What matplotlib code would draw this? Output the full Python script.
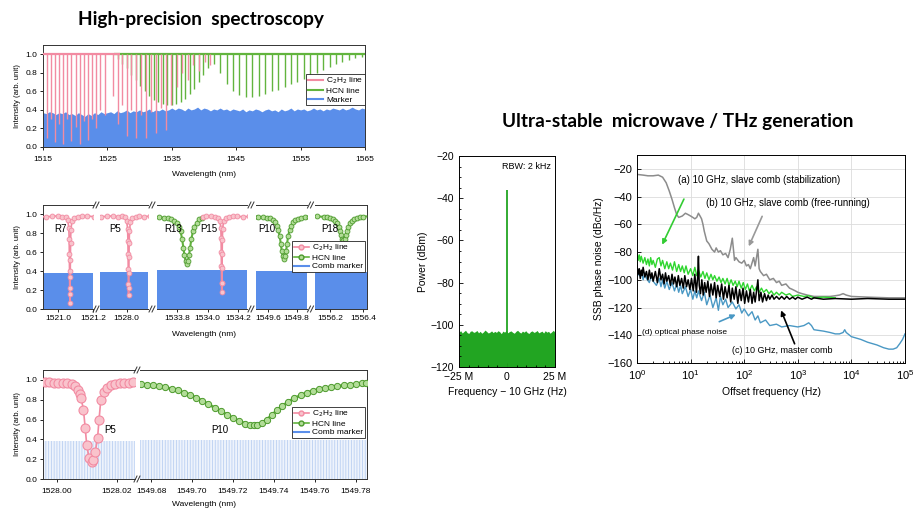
import numpy as np
import matplotlib.pyplot as plt
from matplotlib.lines import Line2D
from matplotlib.ticker import MultipleLocator, LogLocator, NullFormatter

plt.rcParams['font.family'] = ['Liberation Sans', 'DejaVu Sans']
plt.rcParams['hatch.linewidth'] = 0.6

# ---------------- DATA ----------------
# top panel: absorption lines (wavelength nm, minimum intensity)
c2h2_lines = [(1515.6, 0.10), (1516.2, 0.30), (1516.9, 0.05), (1517.5, 0.25), (1518.1, 0.03),
              (1518.8, 0.30), (1519.4, 0.06), (1520.1, 0.22), (1520.7, 0.03), (1521.3, 0.28),
              (1522.0, 0.08), (1522.6, 0.30), (1523.3, 0.20), (1523.9, 0.40), (1524.6, 0.35),
              (1525.9, 0.55), (1526.6, 0.25), (1527.3, 0.45), (1528.0, 0.12), (1528.7, 0.40),
              (1529.5, 0.10), (1530.2, 0.35), (1531.0, 0.10), (1531.7, 0.38), (1532.5, 0.15),
              (1533.3, 0.42), (1534.1, 0.18), (1534.9, 0.45), (1535.8, 0.65), (1536.6, 0.80),
              (1537.5, 0.72), (1538.3, 0.88), (1539.2, 0.82), (1540.1, 0.92), (1541.0, 0.88)]
hcn_lines = [(1526.6, 0.95), (1527.3, 0.90), (1528.0, 0.85), (1528.7, 0.78), (1529.4, 0.72),
             (1530.1, 0.66), (1530.8, 0.60), (1531.5, 0.55), (1532.2, 0.51), (1532.9, 0.48),
             (1533.6, 0.46), (1534.3, 0.45), (1535.0, 0.45), (1535.7, 0.46), (1536.4, 0.48),
             (1537.1, 0.52), (1537.8, 0.57), (1538.5, 0.63), (1539.2, 0.70), (1539.9, 0.78),
             (1540.6, 0.85), (1541.6, 0.90), (1542.5, 0.80), (1543.5, 0.68), (1544.5, 0.60),
             (1545.5, 0.56), (1546.5, 0.54), (1547.5, 0.54), (1548.5, 0.55), (1549.5, 0.57),
             (1550.5, 0.60), (1551.5, 0.62), (1552.5, 0.65), (1553.5, 0.68), (1554.5, 0.70),
             (1555.5, 0.73), (1556.5, 0.76), (1557.5, 0.80), (1558.5, 0.83), (1559.5, 0.86),
             (1560.5, 0.89), (1561.5, 0.92), (1562.5, 0.94), (1563.5, 0.96), (1564.5, 0.97)]
# comb marker level, every 0.5 nm from 1515 to 1565
top_marker = [0.37, 0.36, 0.38, 0.37, 0.35, 0.37, 0.36, 0.38, 0.35, 0.36, 0.34, 0.37, 0.35,
              0.33, 0.36, 0.34, 0.37, 0.35, 0.38, 0.36, 0.37,
              0.38, 0.36, 0.39, 0.37, 0.38, 0.40, 0.37, 0.39, 0.38, 0.40, 0.38, 0.39, 0.41,
              0.38, 0.40, 0.39, 0.41, 0.39, 0.40, 0.42,
              0.40, 0.42, 0.41, 0.39, 0.42, 0.40, 0.41, 0.43, 0.40, 0.42, 0.41, 0.39, 0.41,
              0.40, 0.42, 0.40, 0.41, 0.39, 0.41, 0.40,
              0.39, 0.41, 0.38, 0.40, 0.39, 0.41, 0.40, 0.38, 0.40, 0.41, 0.39, 0.40, 0.38,
              0.41, 0.39, 0.40, 0.42, 0.39, 0.41, 0.40,
              0.41, 0.39, 0.40, 0.42, 0.40, 0.41, 0.39, 0.41, 0.40, 0.42, 0.41, 0.40, 0.42,
              0.40, 0.41, 0.43, 0.41, 0.40, 0.42, 0.41]

# middle panel: (offset from line centre nm, intensity)
mid_centers = {'R7': 1521.067, 'P5': 1528.0117, 'R13': 1533.865, 'P15': 1534.092,
               'P10': 1549.71, 'P18': 1556.281}
mid_label_x = {'R7': 1521.01, 'P5': 1527.925, 'R13': 1533.778, 'P15': 1534.011,
               'P10': 1549.589, 'P18': 1556.20}
mid_r7 = [(-0.30, 0.98), (-0.26, 0.975), (-0.22, 0.985), (-0.18, 0.98), (-0.14, 0.975),
          (-0.10, 0.98), (-0.07, 0.985), (-0.045, 0.975), (-0.025, 0.97), (-0.012, 0.94),
          (-0.006, 0.86), (-0.004, 0.74), (-0.003, 0.58), (-0.002, 0.40), (-0.001, 0.22),
          (0.0, 0.06), (0.001, 0.16), (0.002, 0.34), (0.003, 0.52), (0.004, 0.70),
          (0.006, 0.84), (0.012, 0.93), (0.025, 0.965), (0.045, 0.975), (0.07, 0.98),
          (0.10, 0.985), (0.14, 0.975), (0.18, 0.98), (0.22, 0.985), (0.26, 0.975)]
mid_p5 = [(-0.26, 0.98), (-0.22, 0.985), (-0.18, 0.975), (-0.14, 0.98), (-0.10, 0.985),
          (-0.07, 0.975), (-0.045, 0.98), (-0.025, 0.97), (-0.012, 0.93), (-0.006, 0.85),
          (-0.004, 0.72), (-0.003, 0.58), (-0.002, 0.42), (-0.001, 0.26), (0.0, 0.15),
          (0.001, 0.22), (0.002, 0.38), (0.003, 0.55), (0.004, 0.70), (0.006, 0.83),
          (0.012, 0.92), (0.025, 0.96), (0.045, 0.975), (0.07, 0.98), (0.10, 0.975),
          (0.14, 0.985), (0.18, 0.98), (0.22, 0.975)]
mid_r13 = [(-0.22, 0.97), (-0.18, 0.97), (-0.15, 0.965), (-0.12, 0.96), (-0.10, 0.95),
           (-0.08, 0.935), (-0.065, 0.91), (-0.05, 0.87), (-0.04, 0.82), (-0.03, 0.74),
           (-0.022, 0.65), (-0.015, 0.57), (-0.008, 0.51), (0.0, 0.48), (0.008, 0.51),
           (0.015, 0.57), (0.022, 0.65), (0.03, 0.74), (0.04, 0.82), (0.05, 0.87),
           (0.065, 0.91), (0.08, 0.95), (0.10, 0.965)]
mid_p15 = [(-0.12, 0.975), (-0.10, 0.985), (-0.07, 0.98), (-0.045, 0.975), (-0.025, 0.965),
           (-0.012, 0.93), (-0.006, 0.86), (-0.004, 0.75), (-0.003, 0.60), (-0.002, 0.45),
           (-0.001, 0.28), (0.0, 0.18), (0.001, 0.27), (0.002, 0.43), (0.003, 0.58),
           (0.004, 0.73), (0.006, 0.85), (0.012, 0.93), (0.025, 0.965), (0.045, 0.975),
           (0.07, 0.985), (0.10, 0.98), (0.14, 0.975), (0.18, 0.98)]
mid_p10 = [(-0.21, 0.975), (-0.18, 0.975), (-0.15, 0.97), (-0.12, 0.965), (-0.10, 0.96),
           (-0.08, 0.94), (-0.065, 0.915), (-0.05, 0.88), (-0.04, 0.84), (-0.03, 0.77),
           (-0.022, 0.69), (-0.015, 0.61), (-0.008, 0.56), (0.0, 0.53), (0.008, 0.56),
           (0.015, 0.61), (0.022, 0.69), (0.03, 0.77), (0.04, 0.84), (0.05, 0.88),
           (0.065, 0.915), (0.08, 0.94), (0.10, 0.95), (0.12, 0.96), (0.15, 0.97),
           (0.18, 0.975)]
mid_p18 = [(-0.20, 0.985), (-0.16, 0.98), (-0.12, 0.975), (-0.10, 0.97), (-0.08, 0.96),
           (-0.065, 0.95), (-0.05, 0.93), (-0.04, 0.905), (-0.03, 0.87), (-0.022, 0.82),
           (-0.015, 0.78), (-0.008, 0.745), (0.0, 0.73), (0.008, 0.745), (0.015, 0.78),
           (0.022, 0.82), (0.03, 0.87), (0.04, 0.905), (0.05, 0.93), (0.065, 0.95),
           (0.08, 0.96), (0.10, 0.97), (0.12, 0.975), (0.16, 0.985)]
mid_comb_level = [0.38, 0.39, 0.41, 0.40, 0.39]
mid_xlims = [(1520.9126, 1521.198), (1527.828, 1528.137), (1533.672, 1534.256),
             (1549.513, 1549.873), (1556.110, 1556.422)]
mid_xticks = [[1521.0, 1521.2], [1528.0], [1533.8, 1534.0, 1534.2], [1549.6, 1549.8],
              [1556.2, 1556.4]]

# bottom panel: zoom on P5 and P10 (wavelength nm, intensity)
bot_p5 = [(1527.9960, 0.975), (1527.9975, 0.975), (1527.9990, 0.97), (1528.0005, 0.97),
          (1528.0020, 0.965), (1528.0035, 0.965), (1528.0050, 0.96), (1528.0062, 0.935),
          (1528.0070, 0.90), (1528.0076, 0.855), (1528.0081, 0.815), (1528.0089, 0.70),
          (1528.0095, 0.51), (1528.0100, 0.34), (1528.0108, 0.21), (1528.0117, 0.175),
          (1528.0122, 0.19), (1528.0128, 0.27), (1528.0136, 0.41), (1528.0141, 0.60),
          (1528.0147, 0.80), (1528.0156, 0.88), (1528.0167, 0.92), (1528.0180, 0.945),
          (1528.0195, 0.955), (1528.0210, 0.965), (1528.0225, 0.97), (1528.0240, 0.97),
          (1528.0255, 0.975)]
bot_p10 = [(1549.6750, 0.955), (1549.6780, 0.95), (1549.6810, 0.945), (1549.6840, 0.935),
           (1549.6870, 0.925), (1549.6900, 0.91), (1549.6930, 0.895), (1549.6960, 0.87),
           (1549.6990, 0.85), (1549.7020, 0.82), (1549.7050, 0.79), (1549.7080, 0.755),
           (1549.7110, 0.72), (1549.7140, 0.685), (1549.7170, 0.65), (1549.7200, 0.615),
           (1549.7230, 0.585), (1549.7260, 0.56), (1549.7285, 0.545), (1549.7300, 0.54),
           (1549.7315, 0.545), (1549.7340, 0.565), (1549.7365, 0.60), (1549.7390, 0.645),
           (1549.7415, 0.695), (1549.7440, 0.735), (1549.7470, 0.78), (1549.7500, 0.815),
           (1549.7530, 0.845), (1549.7560, 0.87), (1549.7590, 0.89), (1549.7620, 0.905),
           (1549.7650, 0.915), (1549.7680, 0.925), (1549.7710, 0.935), (1549.7740, 0.945),
           (1549.7770, 0.95), (1549.7800, 0.96), (1549.7830, 0.965), (1549.7850, 0.97)]
bot_comb_level = [0.38, 0.395]
bot_xlims = [(1527.9954, 1528.0261), (1549.6746, 1549.7854)]
bot_xticks = [[1528.00, 1528.02], [1549.68, 1549.70, 1549.72, 1549.74, 1549.76, 1549.78]]

# microwave spectrum
mw_floor = [-103.5, -102.8, -103.9, -103.2, -102.6, -103.7, -104.1, -103.0, -102.9, -103.6,
            -103.3, -102.7, -103.8, -103.1, -104.0, -103.4, -102.5, -103.2, -103.9, -103.5,
            -102.9, -103.7, -103.1, -103.6, -102.8, -103.3, -104.2, -103.0, -103.5, -102.7,
            -103.8, -103.2, -102.9, -103.6, -104.0, -103.1, -102.6, -103.4, -103.9, -103.0,
            -103.5, -102.8, -103.7, -104.1, -103.2, -102.9, -103.6, -103.3, -102.7, -103.8,
            -103.4, -103.0, -103.9, -102.8, -103.5, -103.1, -104.0, -103.3, -102.6, -103.7]
mw_peak_freq = 0.0
mw_peak_power = -36.0

# SSB phase noise (offset Hz, dBc/Hz)
pn_gray = [(1, -24), (1.3, -24.5), (1.6, -25), (2.0, -25), (2.5, -24.5), (3.0, -26), (3.5, -30),
           (4.0, -36), (4.5, -42), (5.0, -48), (5.5, -53), (6.0, -55), (7.0, -54), (8.0, -52),
           (9.0, -53), (10, -54), (11, -55), (12, -56), (13, -55), (14, -52), (15, -54),
           (16, -56), (17, -60), (18, -65), (20, -72), (22, -74), (25, -78), (28, -80),
           (30, -77), (33, -80), (36, -79), (40, -82), (45, -81), (50, -84), (55, -78),
           (60, -70), (63, -78), (66, -86), (70, -84), (80, -87), (90, -88), (100, -86),
           (110, -90), (120, -89), (130, -92), (150, -84), (160, -90), (180, -78), (190, -92),
           (200, -94), (230, -97), (260, -96), (300, -100), (350, -99), (400, -102),
           (450, -101), (500, -104), (600, -103), (700, -106), (800, -107), (900, -108),
           (1000, -109), (1200, -110), (1500, -111), (2000, -112), (3000, -112), (4000, -112),
           (5000, -111.5), (6000, -111), (7000, -110), (8000, -111), (10000, -112),
           (20000, -112.5), (50000, -113), (100000, -113)]
pn_green = [(1, -80), (1.05, -86), (1.1, -82), (1.15, -87), (1.2, -83), (1.3, -88), (1.4, -84),
            (1.5, -89), (1.6, -85), (1.7, -90), (1.8, -84), (1.9, -89), (2.0, -86), (2.2, -91),
            (2.4, -85), (2.6, -84), (2.8, -90), (3.0, -86), (3.3, -92), (3.6, -87), (3.9, -92),
            (4.2, -88), (4.6, -93), (5.0, -87), (5.5, -94), (6.0, -89), (6.5, -94), (7.0, -90),
            (7.6, -95), (8.2, -90), (9, -96), (10, -92), (11, -97), (12, -91), (13, -97),
            (14, -93), (15.5, -98), (17, -94), (18.5, -99), (20, -95), (22, -100), (24, -96),
            (26, -100), (28, -97), (31, -101), (34, -98), (37, -102), (40, -99), (44, -103),
            (48, -99), (52, -104), (57, -100), (62, -104), (68, -101), (74, -105), (80, -101),
            (88, -106), (96, -102), (105, -107), (115, -103), (125, -108), (140, -104),
            (155, -108), (170, -105), (190, -109), (210, -106), (230, -109), (260, -107),
            (290, -110), (320, -108), (360, -111), (400, -109), (450, -111), (500, -109),
            (600, -111), (700, -110), (800, -112), (1000, -111), (1300, -112), (1600, -111.5),
            (2000, -113), (3000, -112.5), (5000, -113)]
pn_blue = [(1, -92), (1.1, -97), (1.2, -94), (1.3, -100), (1.4, -95), (1.5, -99), (1.7, -102),
           (1.85, -97), (2.0, -101), (2.3, -104), (2.6, -99), (2.8, -105), (3.0, -100),
           (3.3, -106), (3.6, -101), (4.0, -107), (4.5, -102), (5.0, -108), (5.5, -103),
           (6.0, -109), (6.5, -104), (7.0, -110), (8.0, -105), (9.0, -112), (10, -107),
           (11, -114), (12, -108), (13, -113), (14, -108), (16, -115), (18, -109), (20, -118),
           (23, -111), (26, -120), (30, -113), (33, -122), (36, -112), (40, -118), (45, -114),
           (50, -120), (60, -116), (70, -121), (80, -118), (90, -124), (100, -121), (120, -126),
           (140, -123), (160, -129), (180, -126), (200, -131), (250, -129), (300, -133),
           (400, -132), (500, -134), (700, -133), (1000, -134), (1300, -133), (1600, -131),
           (1800, -133), (2000, -136), (3000, -137), (4000, -138), (5000, -139), (6000, -139),
           (7000, -138), (7500, -136), (8000, -138), (10000, -141), (15000, -143),
           (20000, -145), (30000, -147), (40000, -149), (50000, -150), (60000, -150),
           (70000, -149), (80000, -146), (90000, -143), (100000, -139)]
pn_black = [(1, -90), (1.05, -96), (1.1, -92), (1.15, -99), (1.2, -93), (1.25, -97), (1.3, -91),
            (1.4, -98), (1.5, -94), (1.6, -100), (1.7, -93), (1.8, -99), (1.9, -95), (2.0, -101),
            (2.2, -94), (2.4, -102), (2.6, -92), (2.8, -100), (3.0, -96), (3.2, -103),
            (3.4, -95), (3.6, -101), (3.9, -97), (4.2, -104), (4.5, -96), (4.8, -103),
            (5.1, -98), (5.5, -105), (5.9, -97), (6.3, -104), (6.8, -99), (7.3, -106),
            (7.8, -97), (8.4, -105), (9, -100), (9.7, -107), (10.4, -99), (11.2, -108),
            (12, -96), (12.8, -109), (13.5, -99), (14, -83), (14.5, -104), (15.3, -110),
            (16.2, -100), (17.2, -111), (18.3, -102), (19.5, -109), (21, -101), (22.5, -112),
            (24, -103), (26, -111), (28, -102), (30, -113), (32, -104), (35, -112), (38, -103),
            (41, -114), (44, -105), (48, -113), (52, -104), (56, -116), (60, -106), (65, -114),
            (70, -105), (76, -117), (82, -107), (88, -115), (95, -106), (102, -117),
            (110, -108), (120, -116), (130, -107), (140, -117), (150, -109), (160, -116),
            (170, -108), (180, -100), (190, -115), (205, -109), (220, -116), (240, -110),
            (260, -115), (280, -111), (300, -114), (330, -111), (360, -114), (400, -112),
            (450, -114), (500, -112), (560, -114), (620, -112), (700, -114), (800, -112.5),
            (900, -114), (1000, -112.5), (1200, -114), (1500, -112.5), (1800, -114),
            (2000, -113), (3000, -114), (5000, -113.5), (10000, -114), (20000, -113.5),
            (50000, -114), (100000, -114)]

# ---------------- STYLE ----------------
PINK = '#f28ba2'
PINK_FACE = '#f9c3cc'
GREEN = '#62b43e'
GREEN_EDGE = '#4c9a2c'
GREEN_FACE = '#b2dd98'
BLUE = '#5a8eea'
MW_GREEN = '#22a522'

W, H = 915, 513
fig = plt.figure(figsize=(W / 100, H / 100), dpi=100)


def box(l, t, r, b):
    return fig.add_axes([l / W, 1 - b / H, (r - l) / W, (b - t) / H])


def break_mark(x, y):
    for o in (-1.5, 1.5):
        fig.add_artist(Line2D([(x + o - 2) / W, (x + o + 1) / W],
                              [1 - (y + 3) / H, 1 - (y - 3) / H],
                              color='#333333', lw=0.7))


def small_ticks(ax, pad=1.5):
    ax.tick_params(direction='out', length=2.5, width=0.6, labelsize=6, pad=1.5)
    ax.tick_params(axis='x', pad=pad)
    for s in ax.spines.values():
        s.set_linewidth(0.7)
        s.set_color('#333333')


def intensity_axis(ax):
    ax.set_yticks(np.arange(0, 1.01, 0.2))
    ax.set_yticklabels(['0.0', '0.2', '0.4', '0.6', '0.8', '1.0'])
    ax.set_ylabel('Intensity (arb. unit)', fontsize=5.5, labelpad=3)


def legend_handles(kind):
    if kind == 'lines':
        return [Line2D([], [], color=PINK, lw=1.5), Line2D([], [], color=GREEN, lw=1.5),
                Line2D([], [], color=BLUE, lw=1.5)]
    return [Line2D([], [], color=PINK, lw=1.2, marker='o', ms=3.5, mfc=PINK_FACE, mec=PINK),
            Line2D([], [], color=GREEN, lw=1.2, marker='o', ms=3.5, mfc=GREEN_FACE, mec=GREEN_EDGE),
            Line2D([], [], color=BLUE, lw=1.5)]


def put_legend(kind, labels, right, top):
    fig.legend(legend_handles(kind), labels, loc='upper right',
               bbox_to_anchor=(right / W, 1 - top / H), fontsize=6, frameon=True,
               fancybox=False, edgecolor='#222222', framealpha=1, borderpad=0.2,
               labelspacing=0.1, handlelength=1.8, handletextpad=0.4,
               borderaxespad=0).get_frame().set_linewidth(0.6)


# titles
fig.text(201 / W, 1 - 20 / H, 'High-precision  spectroscopy', ha='center', va='center',
         fontsize=13.7, fontweight='bold', family=['Lato', 'DejaVu Sans'])
fig.text(678 / W, 1 - 121 / H, 'Ultra-stable  microwave / THz generation', ha='center',
         va='center', fontsize=13.7, fontweight='bold', family=['Lato', 'DejaVu Sans'])

# ---------- top panel ----------
ax = box(43, 45, 365, 147)
grid = np.linspace(1515, 1565, len(top_marker))
ax.fill_between(grid, 0, top_marker, color=BLUE, lw=0, zorder=1)
hw, hd = zip(*hcn_lines)
ax.vlines(hw, hd, 1.0, color=GREEN, lw=1.0, zorder=2)
cw, cd = zip(*c2h2_lines)
ax.vlines(cw, cd, 1.0, color=PINK, lw=1.0, zorder=3)
ax.hlines(1.0, 1526, 1565, color=GREEN, lw=1.6, zorder=2)
ax.hlines(1.0, 1515, 1527, color=PINK, lw=1.6, zorder=3)
ax.set_xlim(1515, 1565)
ax.set_ylim(0, 1.1)
ax.set_xticks(range(1515, 1566, 10))
intensity_axis(ax)
small_ticks(ax, pad=4)
fig.text(204 / W, 1 - 174 / H, 'Wavelength (nm)', ha='center', va='center', fontsize=6)
put_legend('lines', ['C$_2$H$_2$ line', 'HCN line', 'Marker'], 365, 74)

# ---------- middle panel ----------
mid_px = [(43, 93), (100, 148), (157, 247), (256, 307), (315, 367)]
pink_sets = [('R7', mid_r7), ('P5', mid_p5), ('P15', mid_p15)]
green_sets = [('R13', mid_r13), ('P10', mid_p10), ('P18', mid_p18)]
for i, (l, r) in enumerate(mid_px):
    a = box(l, 205, r, 309)
    x0, x1 = mid_xlims[i]
    a.fill_between([x0, x1], 0, mid_comb_level[i], color=BLUE, lw=0, zorder=1)
    for name, pts in green_sets:
        off, val = zip(*pts)
        a.plot(mid_centers[name] + np.array(off), val, color=GREEN, lw=1.5, marker='o',
               ms=3.5, mfc=GREEN_FACE, mec=GREEN_EDGE, mew=0.6, zorder=3)
    for name, pts in pink_sets:
        off, val = zip(*pts)
        a.plot(mid_centers[name] + np.array(off), val, color=PINK, lw=1.2, marker='o',
               ms=3.5, mfc=PINK_FACE, mec=PINK, mew=0.6, zorder=3)
    a.set_xlim(x0, x1)
    a.set_ylim(0, 1.1)
    a.set_xticks(mid_xticks[i])
    a.set_xticklabels(['%.1f' % t for t in mid_xticks[i]])
    small_ticks(a, pad=2)
    if i > 0:
        a.spines['left'].set_visible(False)
        a.tick_params(axis='y', left=False, labelleft=False)
    else:
        intensity_axis(a)
    if i < len(mid_px) - 1:
        a.spines['right'].set_visible(False)
        gap = (r + mid_px[i + 1][0]) / 2
        break_mark(gap, 205)
        break_mark(gap, 309)
    for name, lx in mid_label_x.items():
        if x0 < lx < x1:
            a.text(lx, 0.85, name, ha='center', va='center', fontsize=7)
fig.text(204 / W, 1 - 334 / H, 'Wavelength (nm)', ha='center', va='center', fontsize=6)
put_legend('markers', ['C$_2$H$_2$ line', 'HCN line', 'Comb marker'], 365, 241)

# ---------- bottom panel ----------
bot_px = [(43, 135), (140, 367)]
for i, (l, r) in enumerate(bot_px):
    a = box(l, 370, r, 479)
    x0, x1 = bot_xlims[i]
    a.fill_between([x0, x1], 0, bot_comb_level[i], facecolor='#eef3fc', edgecolor='#bad0f2',
                   hatch='||||||', lw=0, zorder=1)
    w5, v5 = zip(*bot_p5)
    a.plot(w5, v5, color=PINK, lw=1.2, marker='o', ms=6.5, mfc=PINK_FACE, mec=PINK,
           mew=0.8, zorder=3)
    w10, v10 = zip(*bot_p10)
    a.plot(w10, v10, color=GREEN, lw=2.0, marker='o', ms=4.5, mfc=GREEN_FACE,
           mec=GREEN_EDGE, mew=0.7, zorder=3)
    a.set_xlim(x0, x1)
    a.set_ylim(0, 1.1)
    a.set_xticks(bot_xticks[i])
    a.set_xticklabels(['%.2f' % t for t in bot_xticks[i]])
    small_ticks(a, pad=4)
    if i == 0:
        a.spines['right'].set_visible(False)
        intensity_axis(a)
        a.text(1528.0178, 0.49, 'P5', ha='center', va='center', fontsize=7)
        break_mark((r + bot_px[1][0]) / 2, 370)
        break_mark((r + bot_px[1][0]) / 2, 479)
    else:
        a.spines['left'].set_visible(False)
        a.tick_params(axis='y', left=False, labelleft=False)
        a.text(1549.7137, 0.49, 'P10', ha='center', va='center', fontsize=7)
fig.text(204 / W, 1 - 505 / H, 'Wavelength (nm)', ha='center', va='center', fontsize=6)
put_legend('markers', ['C$_2$H$_2$ line', 'HCN line', 'Comb marker'], 365, 407)

# ---------- microwave spectrum ----------
am = box(459, 156, 555, 367)
fgrid = np.linspace(-25e6, 25e6, len(mw_floor))
am.fill_between(fgrid, -120, mw_floor, color=MW_GREEN, lw=0)
am.vlines(mw_peak_freq, -120, mw_peak_power, color=MW_GREEN, lw=1.3)
am.set_xlim(-25e6, 25e6)
am.set_ylim(-120, -20)
am.set_yticks(range(-120, -19, 20))
am.yaxis.set_minor_locator(MultipleLocator(5))
am.set_xticks([-25e6, 0, 25e6])
am.set_xticklabels(['\u221225 M', '0', '25 M'])
am.xaxis.set_minor_locator(MultipleLocator(5e6))
am.tick_params(which='both', direction='in', labelsize=7.5, width=0.6)
am.tick_params(which='major', length=3)
am.tick_params(which='minor', length=1.5)
for s in am.spines.values():
    s.set_linewidth(0.7)
am.set_ylabel('Power (dBm)', fontsize=7.5, labelpad=2)
am.set_xlabel('Frequency \u2212 10 GHz (Hz)', fontsize=7.5, labelpad=4)
am.text(0.96, 0.97, 'RBW: 2 kHz', transform=am.transAxes, ha='right', va='top', fontsize=6.5)

# ---------- phase noise ----------
ap = box(637, 155, 905, 363)
for pts, col, lw in [(pn_gray, '#8c8c8c', 1.1), (pn_green, '#2fd62f', 1.0),
                     (pn_blue, '#4a98c4', 1.0), (pn_black, 'black', 1.1)]:
    f, v = zip(*pts)
    ap.plot(f, v, color=col, lw=lw)
ap.set_xscale('log')
ap.set_xlim(1, 1e5)
ap.set_ylim(-160, -10)
ap.set_yticks(range(-160, -19, 20))
ap.xaxis.set_minor_locator(LogLocator(base=10, subs=np.arange(2, 10), numticks=20))
ap.xaxis.set_minor_formatter(NullFormatter())
ap.grid(True, which='major', color='#dcdcdc', lw=0.6)
ap.set_axisbelow(True)
ap.tick_params(which='both', direction='in', labelsize=8, width=0.6)
ap.tick_params(which='major', length=3)
ap.tick_params(which='minor', length=1.5)
for s in ap.spines.values():
    s.set_linewidth(0.7)
ap.set_ylabel('SSB phase noise (dBc/Hz)', fontsize=7.5, labelpad=2)
ap.set_xlabel('Offset frequency (Hz)', fontsize=7.5, labelpad=4)
ap.text(5.8, -28, '(a) 10 GHz, slave comb (stabilization)', fontsize=7, va='center')
ap.text(19, -44.6, '(b) 10 GHz, slave comb (free-running)', fontsize=7, va='center')
ap.text(58, -151, '(c) 10 GHz, master comb', fontsize=6.5, va='center')
ap.text(1.22, -138, '(d) optical phase noise', fontsize=6, va='center')
for start, end, col in [((7.9, -40), (2.8, -76.5), '#33cc33'),
                        ((227, -52.4), (116, -77.7), '#999999'),
                        ((912, -148), (466, -120.2), 'black'),
                        ((30.7, -131), (77.6, -124.3), '#4a98c4')]:
    ap.annotate('', xy=end, xytext=start,
                arrowprops=dict(arrowstyle='-|>', color=col, lw=1.2, mutation_scale=7))

fig.savefig('out.png', dpi=100)
